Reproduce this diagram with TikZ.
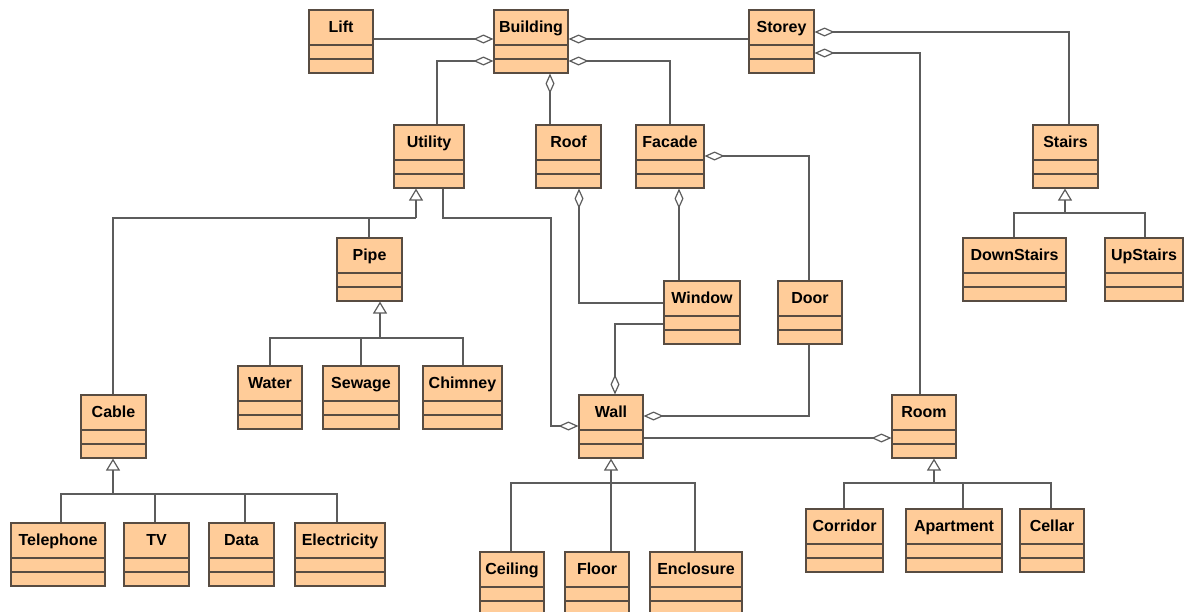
\documentclass[tikz,border=0pt]{standalone}
\usepackage{fontspec}
\setmainfont{Liberation Sans}
\usepackage{tikz}
\usetikzlibrary{calc,positioning,arrows.meta}

\definecolor{boxfill}{RGB}{255,204,153}
\definecolor{boxline}{RGB}{88,76,66}
\definecolor{linkline}{RGB}{92,92,92}

\tikzset{
  cls/.style={draw=boxline, fill=boxfill, line width=1.1pt, inner sep=0pt,
    minimum height=63pt, text height=22pt, text depth=41pt,
    font=\fontsize{16}{18}\selectfont\bfseries,
    path picture={\draw[boxline,line width=1.1pt]
      ([yshift=-35pt]path picture bounding box.north west) -- ([yshift=-35pt]path picture bounding box.north east)
      ([yshift=-49pt]path picture bounding box.north west) -- ([yshift=-49pt]path picture bounding box.north east);}},
  link/.style={draw=linkline, line width=1.2pt},
  agg/.style={link, -{Diamond[open,length=20pt,width=9pt]}},
  gen/.style={link, -{Triangle[open,length=12pt,width=14pt]}}
}

\begin{document}
\begin{tikzpicture}[x=1pt,y=-1pt]
\useasboundingbox (0,0) rectangle (1184,611);

\node[cls, minimum width=64pt] (lift) at (341,41.5) {Lift};
\node[cls, minimum width=74pt] (building) at (531,41.5) {Building};
\node[cls, minimum width=65pt] (storey) at (781.5,41.5) {Storey};
\node[cls, minimum width=70pt] (utility) at (429,156.5) {Utility};
\node[cls, minimum width=65pt] (roof) at (568.5,156.5) {Roof};
\node[cls, minimum width=68pt] (facade) at (670,156.5) {Facade};
\node[cls, minimum width=65pt] (stairs) at (1065.5,156.5) {Stairs};
\node[cls, minimum width=65pt] (pipe) at (369.5,269.5) {Pipe};
\node[cls, minimum width=103pt] (downstairs) at (1014.5,269.5) {DownStairs};
\node[cls, minimum width=78pt] (upstairs) at (1144,269.5) {UpStairs};
\node[cls, minimum width=76pt] (window) at (702,312.5) {Window};
\node[cls, minimum width=64pt] (door) at (810,312.5) {Door};
\node[cls, minimum width=64pt] (water) at (270,397.5) {Water};
\node[cls, minimum width=76pt] (sewage) at (361,397.5) {Sewage};
\node[cls, minimum width=79pt] (chimney) at (462.5,397.5) {Chimney};
\node[cls, minimum width=65pt] (cable) at (113.5,426.5) {Cable};
\node[cls, minimum width=64pt] (wall) at (611,426.5) {Wall};
\node[cls, minimum width=64pt] (room) at (924,426.5) {Room};
\node[cls, minimum width=94pt] (telephone) at (58,554.5) {Telephone};
\node[cls, minimum width=65pt] (tv) at (156.5,554.5) {TV};
\node[cls, minimum width=65pt] (data) at (241.5,554.5) {Data};
\node[cls, minimum width=90pt] (electricity) at (340,554.5) {Electricity};
\node[cls, minimum width=64pt] (ceiling) at (512,583.5) {Ceiling};
\node[cls, minimum width=64pt] (floor) at (597,583.5) {Floor};
\node[cls, minimum width=92pt] (enclosure) at (696,583.5) {Enclosure};
\node[cls, minimum width=77pt] (corridor) at (844.5,540.5) {Corridor};
\node[cls, minimum width=96pt] (apartment) at (954,540.5) {Apartment};
\node[cls, minimum width=64pt] (cellar) at (1052,540.5) {Cellar};

\draw[agg] (lift.east |- 0,39) -- (building.west |- 0,39);
\draw[agg] (storey.west |- 0,39) -- (building.east |- 0,39);
\draw[agg] (utility.north -| 437,0) |- (building.west |- 0,61);
\draw[agg] (roof.north -| 550,0) -- (building.south -| 550,0);
\draw[agg] (facade.north) |- (building.east |- 0,61);
\draw[agg] (stairs.north -| 1069,0) |- (storey.east |- 0,32);
\draw[agg] (room.north -| 920,0) |- (storey.east |- 0,53);
\draw[agg] (door.north -| 809,0) |- (facade.east |- 0,156);
\draw[agg] (window.west |- 0,303) -| (roof.south -| 579,0);
\draw[agg] (window.north -| 679,0) -- (facade.south -| 679,0);
\draw[agg] (window.west |- 0,324) -| (wall.north -| 615,0);
\draw[agg] (door.south -| 809,0) |- (wall.east |- 0,416);
\draw[agg] (utility.south -| 443,0) |- (551,218) |- (wall.west |- 0,426);
\draw[agg] (wall.east |- 0,438) -- (room.west |- 0,438);

\coordinate (stairsbus) at (1065,213);
\draw[link] (downstairs.north -| 1014,0) |- (1145,213) -- (upstairs.north -| 1145,0);
\draw[gen] (stairsbus) -- (stairs.south -| stairsbus);

\coordinate (utilbus) at (416,218);
\draw[link] (cable.north -| 113,0) |- (utilbus);
\draw[link] (pipe.north -| 369,0) -- (369,218);
\draw[gen] (utilbus) -- (utility.south -| utilbus);

\coordinate (pipebus) at (380,338);
\draw[link] (water.north) |- (463,338) -- (chimney.north -| 463,0);
\draw[link] (sewage.north) -- (sewage.north |- pipebus);
\draw[gen] (pipebus) -- (pipe.south -| pipebus);

\coordinate (cablebus) at (113,494);
\draw[link] (telephone.north -| 61,0) |- (337,494) -- (electricity.north -| 337,0);
\draw[link] (tv.north -| 155,0) -- (155,494);
\draw[link] (data.north -| 245,0) -- (245,494);
\draw[gen] (cablebus) -- (cable.south -| cablebus);

\coordinate (wallbus) at (611,483);
\draw[link] (ceiling.north -| 511,0) |- (695,483) -- (enclosure.north -| 695,0);
\draw[link] (floor.north -| wallbus) -- (wallbus);
\draw[gen] (wallbus) -- (wall.south);

\coordinate (roombus) at (934,483);
\draw[link] (corridor.north -| 844,0) |- (1051,483) -- (cellar.north -| 1051,0);
\draw[link] (apartment.north -| 963,0) -- (963,483);
\draw[gen] (roombus) -- (room.south -| roombus);

\end{tikzpicture}
\end{document}
